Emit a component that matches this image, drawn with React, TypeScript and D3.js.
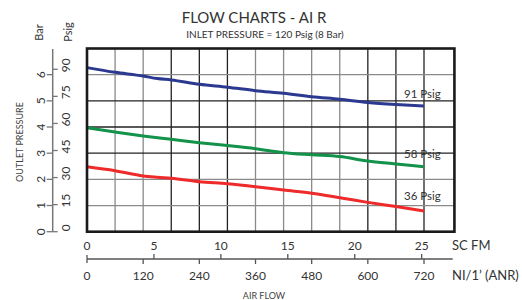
import * as d3 from "d3";

// flow in Nl/min (ANR), outlet pressure in bar
const flow91 = [0, 60, 120, 150, 180, 240, 300, 360, 420, 480, 540, 600, 660, 720];
const bar91 = [6.27, 6.09, 5.95, 5.85, 5.8, 5.63, 5.52, 5.39, 5.29, 5.16, 5.06, 4.94, 4.86, 4.8];
const flow58 = [0, 60, 120, 180, 240, 300, 360, 420, 480, 540, 600, 660, 720];
const bar58 = [3.97, 3.81, 3.66, 3.53, 3.4, 3.29, 3.17, 3.02, 2.94, 2.87, 2.7, 2.59, 2.48];
const flow36 = [0, 60, 120, 150, 180, 240, 300, 360, 420, 480, 540, 600, 660, 720];
const bar36 = [2.48, 2.33, 2.13, 2.08, 2.04, 1.91, 1.83, 1.72, 1.59, 1.47, 1.3, 1.12, 0.96, 0.79];

const seriesLabels = ["91 Psig", "58 Psig", "36 Psig"];
const barTicks = [0, 1, 2, 3, 4, 5, 6];
const psigTicks = [0, 15, 30, 45, 60, 75, 90];
const scfmTicks = [0, 5, 10, 15, 20, 25];
const nlTicks = [0, 120, 240, 360, 480, 600, 720];
const gridFlow = [60, 120, 180, 240, 300, 360, 420, 480, 540, 600, 660, 720];
const gridBar = [1, 2, 3, 4, 5, 6];

const NL_PER_SCFM = 28.6;
const PSI_PER_BAR = 14.5038;

const lightV = new Set([60, 120, 360, 420, 480, 540]);
const lightH = new Set([1, 2, 6]);

const FONT = "Lato, 'DejaVu Sans', sans-serif";

export default function App() {
  const x = d3.scaleLinear().domain([0, 720]).range([87, 424]);
  const y = d3.scaleLinear().domain([0, 7]).range([231.7, 48.5]);
  const right = x(785);

  const series = [
    { flow: flow91, bar: bar91, color: "#2b3990", label: seriesLabels[0], ly: 98 },
    { flow: flow58, bar: bar58, color: "#13924a", label: seriesLabels[1], ly: 158 },
    { flow: flow36, bar: bar36, color: "#ee2a2a", label: seriesLabels[2], ly: 199.5 },
  ];

  const line = d3
    .line<[number, number]>()
    .x((d) => x(d[0]))
    .y((d) => y(d[1]))
    .curve(d3.curveMonotoneX);

  const axisX = 52.7;
  const axisY = 259;

  return (
    <svg width={522} height={300} style={{ position: "absolute", left: 0, top: 0 }} fontFamily={FONT}>
      <rect width={522} height={300} fill="#fff" />

      {/* titles */}
      <text x={254} y={23} textAnchor="middle" fontSize={15} fill="#333">
        FLOW CHARTS - AI R
      </text>
      <text x={265} y={37.5} textAnchor="middle" fontSize={10} fill="#333">
        INLET PRESSURE = 120 Psig (8 Bar)
      </text>

      {/* grid */}
      {gridFlow.map((f) => (
        <line key={"v" + f} x1={x(f)} x2={x(f)} y1={y(7)} y2={y(0)}
          stroke={lightV.has(f) ? "#8a8a8a" : "#222"} strokeWidth={1.3} />
      ))}
      {gridBar.map((b) => (
        <line key={"h" + b} x1={x(0)} x2={right} y1={y(b)} y2={y(b)}
          stroke={lightH.has(b) ? "#8a8a8a" : "#222"} strokeWidth={1.3} />
      ))}

      {/* series */}
      {series.map((s) => (
        <g key={s.label}>
          <path
            d={line(s.flow.map((f, i) => [f, s.bar[i]] as [number, number])) || ""}
            fill="none" stroke={s.color} strokeWidth={3} />
          <text x={404} y={s.ly} fontSize={11.5} fill="#333">{s.label}</text>
        </g>
      ))}

      {/* frame */}
      <rect x={x(0)} y={y(7)} width={right - x(0)} height={y(0) - y(7)}
        fill="none" stroke="#1a1a1a" strokeWidth={2.6} />

      {/* left pressure axis */}
      <line x1={axisX} x2={axisX} y1={49} y2={y(0)} stroke="#777" strokeWidth={1.5} />
      {barTicks.map((b) => (
        <g key={"b" + b}>
          <line x1={axisX - 6} x2={axisX} y1={y(b)} y2={y(b)} stroke="#777" strokeWidth={1.3} />
          <text transform={`translate(40,${y(b)}) rotate(-90)`} textAnchor="middle"
            dominantBaseline="central" fontSize={12} fill="#333">{b}</text>
        </g>
      ))}
      {psigTicks.map((p) => (
        <g key={"p" + p}>
          <line x1={axisX} x2={axisX + 5} y1={y(p / PSI_PER_BAR)} y2={y(p / PSI_PER_BAR)}
            stroke="#777" strokeWidth={1.3} />
          <text transform={`translate(65.5,${y(p / PSI_PER_BAR) - 4}) rotate(-90)`} textAnchor="middle"
            dominantBaseline="central" fontSize={12} fill="#333">{p}</text>
        </g>
      ))}
      <text transform="translate(38,32.5) rotate(-90)" textAnchor="middle"
        dominantBaseline="central" fontSize={11} fill="#333">Bar</text>
      <text transform="translate(67,32) rotate(-90)" textAnchor="middle"
        dominantBaseline="central" fontSize={11} fill="#333">Psig</text>
      <text transform="translate(19,142) rotate(-90)" textAnchor="middle"
        dominantBaseline="central" fontSize={9} fill="#444">OUTLET PRESSURE</text>

      {/* bottom axes */}
      {scfmTicks.map((s) => (
        <text key={"s" + s} x={x(s * NL_PER_SCFM)} y={249.5} textAnchor="middle" fontSize={12} fill="#333">
          {s}
        </text>
      ))}
      <text x={452} y={249.5} fontSize={13} fill="#333">SC FM</text>

      <line x1={x(0)} x2={452.7} y1={axisY} y2={axisY} stroke="#555" strokeWidth={1.3} />
      <line x1={x(0)} x2={x(0)} y1={axisY - 4} y2={axisY + 4} stroke="#555" strokeWidth={1.3} />
      {scfmTicks.filter((s) => s > 0).map((s) => (
        <line key={"st" + s} x1={x(s * NL_PER_SCFM)} x2={x(s * NL_PER_SCFM)} y1={axisY - 5} y2={axisY}
          stroke="#555" strokeWidth={1.3} />
      ))}
      {nlTicks.filter((n) => n > 0).map((n) => (
        <line key={"nt" + n} x1={x(n)} x2={x(n)} y1={axisY} y2={axisY + 5} stroke="#555" strokeWidth={1.3} />
      ))}
      {nlTicks.map((n) => (
        <text key={"n" + n} x={x(n)} y={279.5} textAnchor="middle" fontSize={12} fill="#333">
          {n}
        </text>
      ))}
      <text x={452} y={280} fontSize={13} fill="#333">NI/1’ (ANR)</text>
      <text x={264} y={299} textAnchor="middle" fontSize={9} fill="#444">AIR FLOW</text>
    </svg>
  );
}
